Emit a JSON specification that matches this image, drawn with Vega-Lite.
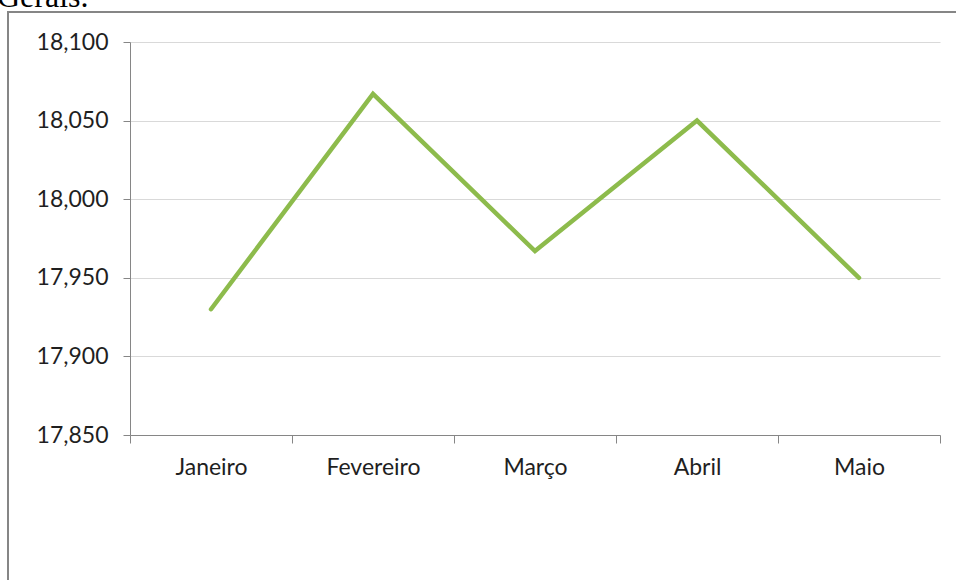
{
  "$schema": "https://vega.github.io/schema/vega-lite/v6.json",
  "autosize": {"type": "none"},
  "padding": {"left": 8, "top": 12, "right": 0, "bottom": 0},
  "width": 952,
  "height": 572,
  "background": "white",
  "title": {
    "text": "Gerais.",
    "anchor": "start",
    "frame": "group",
    "orient": "top",
    "dx": -11,
    "offset": -27,
    "baseline": "alphabetic",
    "font": "Liberation Serif",
    "fontSize": 32,
    "fontWeight": "normal",
    "color": "#000000"
  },
  "config": {
    "view": {"stroke": "#868686", "strokeWidth": 2},
    "axis": {
      "labelFont": "Lato",
      "labelFontSize": 23,
      "labelColor": "#1F1F1F",
      "domainColor": "#868686",
      "tickColor": "#868686",
      "domainWidth": 1,
      "tickWidth": 1,
      "title": null
    }
  },
  "data": {
    "values": [
      {"mes": "Janeiro", "valor": 17930},
      {"mes": "Fevereiro", "valor": 18067},
      {"mes": "Março", "valor": 17967},
      {"mes": "Abril", "valor": 18050},
      {"mes": "Maio", "valor": 17950}
    ]
  },
  "mark": {"type": "line", "color": "#8DBB4C", "strokeWidth": 4.5, "strokeCap": "round", "strokeJoin": "miter"},
  "encoding": {
    "x": {
      "field": "mes",
      "type": "nominal",
      "sort": null,
      "scale": {"type": "band", "range": [122, 932], "paddingInner": 0, "paddingOuter": 0},
      "axis": {
        "orient": "bottom",
        "offset": -149,
        "tickBand": "extent",
        "tickSize": 8,
        "labelPadding": 13,
        "labelAngle": 0,
        "grid": false
      }
    },
    "y": {
      "field": "valor",
      "type": "quantitative",
      "scale": {"domain": [17850, 18100], "range": [423, 30], "nice": false, "zero": false},
      "axis": {
        "orient": "left",
        "offset": -122,
        "values": [17850, 17900, 17950, 18000, 18050, 18100],
        "format": ",d",
        "tickSize": 7,
        "labelPadding": 15,
        "grid": true,
        "gridColor": "#D9D9D9",
        "gridWidth": 1
      }
    }
  }
}
